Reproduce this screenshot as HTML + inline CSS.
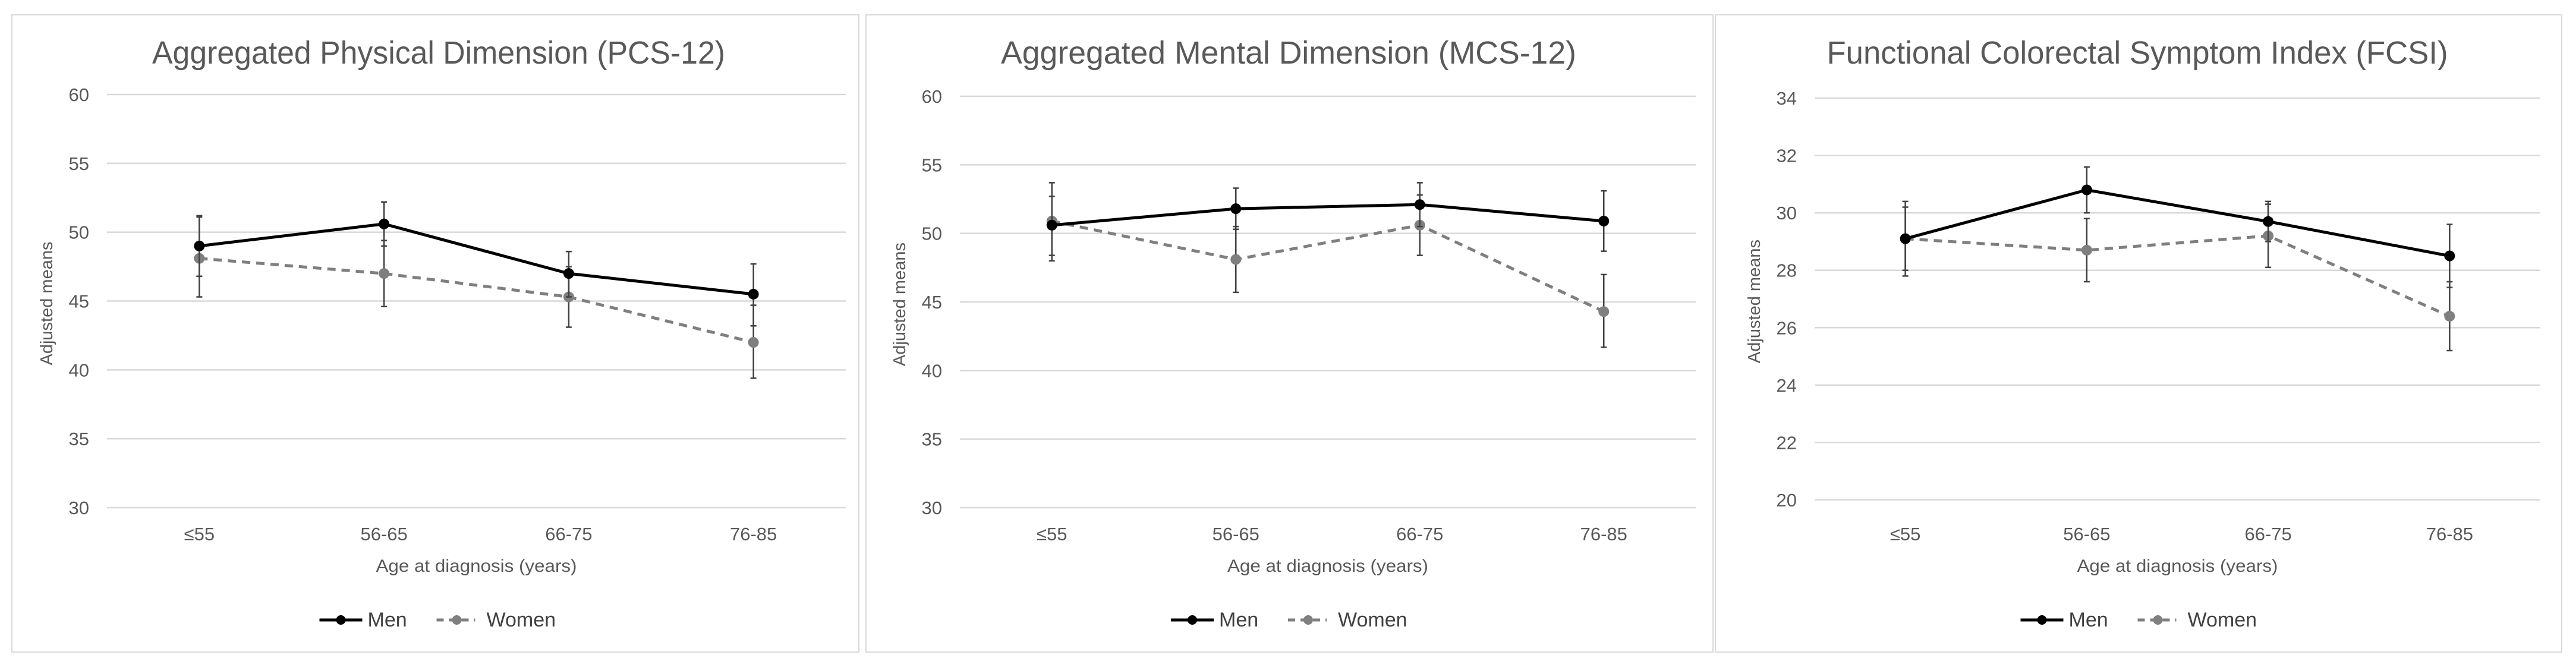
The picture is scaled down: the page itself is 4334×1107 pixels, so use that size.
<!DOCTYPE html>
<html><head><meta charset="utf-8">
<style>
html,body{margin:0;padding:0;background:#fff;}
svg{display:block;font-family:"Liberation Sans",sans-serif;}
</style></head>
<body>
<svg id="chart" width="4334" height="1107" viewBox="0 0 4334 1107" xmlns="http://www.w3.org/2000/svg"></svg>
<script>
const categories = ["≤55","56-65","66-75","76-85"];
const pcsMen = [49.0, 50.6, 47.0, 45.5];
const pcsMenHi = [51.1, 52.2, 48.6, 47.7];
const pcsMenLo = [46.8, 49.0, 45.3, 43.2];
const pcsWomen = [48.1, 47.0, 45.3, 42.0];
const pcsWomenHi = [51.2, 49.4, 47.5, 44.7];
const pcsWomenLo = [45.3, 44.6, 43.1, 39.4];
const pcsTicks = [30, 35, 40, 45, 50, 55, 60];

const mcsMen = [50.6, 51.8, 52.1, 50.9];
const mcsMenHi = [53.7, 53.3, 53.7, 53.1];
const mcsMenLo = [48.0, 50.3, 50.5, 48.7];
const mcsWomen = [50.9, 48.1, 50.6, 44.3];
const mcsWomenHi = [52.7, 50.5, 52.8, 47.0];
const mcsWomenLo = [48.4, 45.7, 48.4, 41.7];
const mcsTicks = [30, 35, 40, 45, 50, 55, 60];

const fcsiMen = [29.1, 30.8, 29.7, 28.5];
const fcsiMenHi = [30.4, 31.6, 30.4, 29.6];
const fcsiMenLo = [27.8, 30.0, 29.0, 27.4];
const fcsiWomen = [29.1, 28.7, 29.2, 26.4];
const fcsiWomenHi = [30.2, 29.8, 30.3, 27.6];
const fcsiWomenLo = [28.0, 27.6, 28.1, 25.2];
const fcsiTicks = [20, 22, 24, 26, 28, 30, 32, 34];

const NS = "http://www.w3.org/2000/svg";
const svg = document.getElementById("chart");
function mk(tag, attrs, parent, text){
  const e = document.createElementNS(NS, tag);
  for (const k in attrs) e.setAttribute(k, attrs[k]);
  if (text !== undefined) e.textContent = text;
  parent.appendChild(e);
  return e;
}

function panel(cfg){
  const g = mk("g", {}, svg);
  
  
  const frame = mk("rect", {x:cfg.bx, y:25, width:cfg.bw, height:1072, fill:"#fff", stroke:"#d9d9d9", "stroke-width":2}, g);
  
  
  const x0 = cfg.px0, x1 = cfg.px1, yTop = cfg.yTop, yBot = cfg.yBot;
  const tmin = cfg.ticks[0], tmax = cfg.ticks[cfg.ticks.length-1];
  const ys = v => yBot - (v - tmin) / (tmax - tmin) * (yBot - yTop);
  const band = (x1 - x0) / categories.length;
  const xs = i => x0 + band * (i + 0.5);
  const cx = (x0 + x1) / 2;

  const t = mk("text", {x:cfg.titleX, y:107, "text-anchor":"middle", "font-size":54, fill:"#595959", textLength:cfg.titleW, lengthAdjust:"spacingAndGlyphs"}, g, cfg.title);
  
  

  cfg.ticks.forEach(v => {
    const l = mk("line", {x1:x0, x2:x1, y1:ys(v), y2:ys(v), stroke:"#d9d9d9", "stroke-width":2.5}, g);
    
    
    const tl = mk("text", {x:x0 - 30, y:ys(v) + 11, "text-anchor":"end", "font-size":31, fill:"#595959"}, g, String(v));
    
    
  });

  categories.forEach((c, i) => {
    const tl = mk("text", {x:xs(i), y:909, "text-anchor":"middle", "font-size":31, fill:"#595959"}, g, c);
    
    
  });

  const yt = mk("text", {x:0, y:0, "text-anchor":"middle", "font-size":29, fill:"#595959", transform:`translate(${x0-92},${(yTop+yBot)/2+4}) rotate(-90)`}, g, "Adjusted means");
  
  
  const xt = mk("text", {x:cx, y:962, "text-anchor":"middle", "font-size":30, fill:"#595959", textLength:338, lengthAdjust:"spacingAndGlyphs"}, g, "Age at diagnosis (years)");
  
  

  function series(vals, hi, lo, color, dash, nm){
    const sg = mk("g", {}, g);
    
    
    const pts = vals.map((v, i) => `${xs(i)},${ys(v)}`).join(" ");
    const pl = mk("polyline", {points:pts, fill:"none", stroke:color, "stroke-width":5, "stroke-dasharray":dash}, sg);
    
    
    vals.forEach((v, i) => {
      const x = xs(i);
      const eb = mk("path", {d:`M${x},${ys(hi[i])}V${ys(lo[i])}M${x-5},${ys(hi[i])}H${x+5}M${x-5},${ys(lo[i])}H${x+5}`, stroke:"#404040", "stroke-width":2.5, fill:"none"}, sg);
      
      
      const p = mk("circle", {cx:x, cy:ys(v), r:9, fill:color}, sg);
      
      
    });
  }
  series(cfg.women, cfg.womenHi, cfg.womenLo, "#7f7f7f", "14 10", "women");
  series(cfg.men, cfg.menHi, cfg.menLo, "#000", "none", "men");

  const lg = mk("g", {}, g);
  
  
  const lx = cx - 264;
  const le1 = mk("g", {}, lg);
  
  
  mk("line", {x1:lx, x2:lx+72, y1:1043, y2:1043, stroke:"#000", "stroke-width":5}, le1);
  mk("circle", {cx:lx+36, cy:1043, r:8, fill:"#000"}, le1);
  mk("text", {x:lx+81, y:1054, "font-size":34, fill:"#404040"}, le1, "Men");
  const le2 = mk("g", {}, lg);
  
  
  mk("line", {x1:lx+197, x2:lx+262, y1:1043, y2:1043, stroke:"#7f7f7f", "stroke-width":5, "stroke-dasharray":"12 9"}, le2);
  mk("circle", {cx:lx+231, cy:1043, r:8, fill:"#7f7f7f"}, le2);
  mk("text", {x:lx+281, y:1054, "font-size":34, fill:"#404040"}, le2, "Women");
}

panel({name:"pcs12-chart", bx:20, bw:1425, px0:180, px1:1423, yTop:159, yBot:854, ticks:pcsTicks,
  title:"Aggregated Physical Dimension (PCS-12)", titleX:738, titleW:964,
  men:pcsMen, menHi:pcsMenHi, menLo:pcsMenLo, women:pcsWomen, womenHi:pcsWomenHi, womenLo:pcsWomenLo});
panel({name:"mcs12-chart", bx:1457, bw:1425, px0:1615, px1:2853, yTop:162, yBot:854, ticks:mcsTicks,
  title:"Aggregated Mental Dimension (MCS-12)", titleX:2168, titleW:968,
  men:mcsMen, menHi:mcsMenHi, menLo:mcsMenLo, women:mcsWomen, womenHi:mcsWomenHi, womenLo:mcsWomenLo});
panel({name:"fcsi-chart", bx:2886, bw:1424, px0:3053, px1:4274, yTop:165, yBot:841, ticks:fcsiTicks,
  title:"Functional Colorectal Symptom Index (FCSI)", titleX:3596, titleW:1045,
  men:fcsiMen, menHi:fcsiMenHi, menLo:fcsiMenLo, women:fcsiWomen, womenHi:fcsiWomenHi, womenLo:fcsiWomenLo});
</script>
</body></html>
